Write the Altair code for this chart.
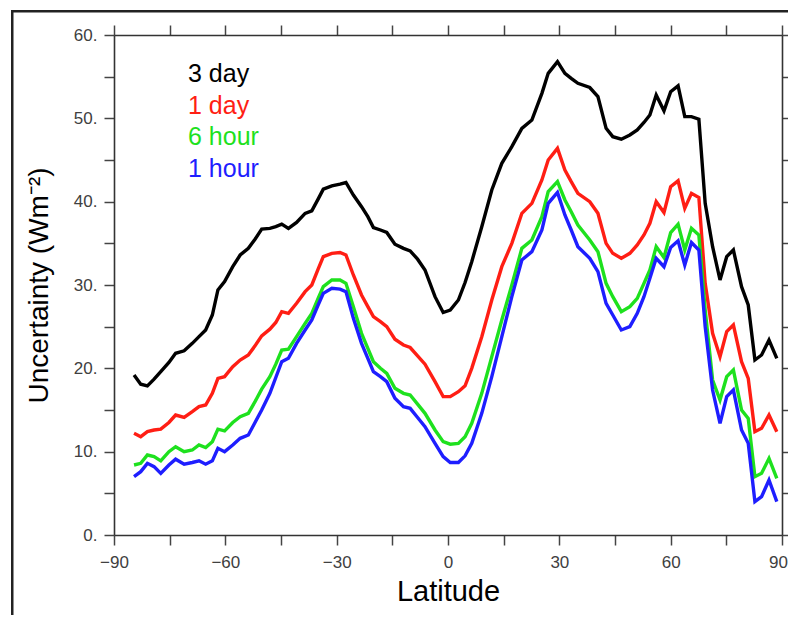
import altair as alt
import pandas as pd

# ---- data ----
lats = [-84.6, -82.8, -81.0, -79.2, -77.4, -75.2, -73.4, -71.1, -68.9, -67.1,
        -65.3, -63.5, -62.0, -60.2, -58.0, -56.0, -53.8, -52.0, -50.2, -48.0,
        -46.4, -44.8, -43.0, -40.8, -38.5, -36.7, -35.0, -33.6, -31.3, -29.1,
        -27.5, -25.5, -23.3, -21.6, -20.1, -18.2, -16.5, -14.3, -12.0, -10.2,
        -8.2, -6.2, -3.5, -1.3, 0.6, 2.8, 4.6, 6.4, 9.1, 11.8,
        14.5, 17.2, 19.9, 22.6, 25.3, 27.0, 29.5, 31.5, 33.2, 35.0,
        38.2, 40.4, 42.6, 44.4, 46.7, 49.0, 51.0, 52.8, 54.4, 56.1,
        58.2, 60.0, 62.0, 63.8, 65.6, 67.6, 69.3, 71.3, 73.3, 75.1,
        76.9, 79.1, 80.9, 82.7, 84.5, 86.5, 88.6]

three_day = [19.2, 18.1, 17.9, 18.7, 19.6, 20.7, 21.8, 22.1, 23.0, 23.8,
             24.6, 26.4, 29.4, 30.4, 32.2, 33.6, 34.4, 35.5, 36.7, 36.8,
             37.0, 37.3, 36.8, 37.5, 38.6, 38.9, 40.3, 41.5, 41.9, 42.1,
             42.3, 40.8, 39.4, 38.2, 36.9, 36.6, 36.3, 34.9, 34.4, 34.1,
             33.1, 31.8, 28.6, 26.7, 27.0, 28.2, 30.3, 32.8, 37.0, 41.4,
             44.6, 46.6, 48.8, 49.8, 53.0, 55.4, 56.8, 55.4, 54.8, 54.2,
             53.7, 52.6, 48.8, 47.8, 47.5, 48.0, 48.6, 49.5, 50.4, 52.8,
             50.9, 53.2, 53.9, 50.2, 50.2, 49.9, 39.8, 34.6, 30.6, 33.4,
             34.2, 29.8, 27.6, 21.0, 21.6, 23.4, 21.2]

one_day = [12.2, 11.8, 12.4, 12.6, 12.7, 13.5, 14.4, 14.1, 14.8, 15.4,
           15.6, 17.0, 18.8, 19.0, 20.2, 21.0, 21.6, 22.7, 23.9, 24.7,
           25.5, 26.8, 26.6, 27.8, 29.2, 30.0, 31.9, 33.4, 33.8, 33.9,
           33.6, 31.2, 28.8, 27.4, 26.2, 25.6, 25.0, 23.5, 22.8, 22.5,
           21.5, 20.5, 18.4, 16.6, 16.6, 17.2, 17.9, 20.0, 23.8, 28.2,
           32.2, 35.0, 38.6, 39.8, 42.6, 45.0, 46.4, 43.8, 42.4, 41.0,
           40.0, 38.6, 35.0, 33.8, 33.2, 33.8, 34.8, 36.0, 37.4, 40.0,
           38.7, 41.8, 42.5, 39.2, 41.0, 40.5, 30.2, 24.2, 21.4, 24.4,
           25.2, 20.8, 18.8, 12.4, 12.8, 14.4, 12.4]

six_hour = [8.4, 8.6, 9.6, 9.4, 8.9, 10.0, 10.6, 10.0, 10.2, 10.8,
            10.5, 11.2, 12.7, 12.5, 13.5, 14.2, 14.6, 16.0, 17.5, 19.0,
            20.5, 22.2, 22.3, 23.8, 25.4, 26.6, 28.4, 29.8, 30.6, 30.6,
            30.2, 27.4, 24.2, 22.4, 20.8, 20.0, 19.4, 17.6, 17.0, 16.8,
            15.7, 14.6, 12.6, 11.2, 10.9, 11.0, 11.8, 13.4, 17.0, 21.4,
            25.8, 30.0, 34.4, 35.4, 38.2, 41.2, 42.4, 40.2, 38.8, 37.2,
            35.4, 34.0, 30.2, 28.6, 26.8, 27.4, 28.4, 30.2, 31.8, 34.6,
            33.3, 36.3, 37.3, 34.2, 36.8, 36.0, 27.0, 18.6, 16.2, 19.0,
            19.8, 15.0, 14.0, 7.0, 7.4, 9.2, 6.8]

one_hour = [7.0, 7.6, 8.6, 8.2, 7.4, 8.4, 9.1, 8.5, 8.7, 8.9,
            8.5, 8.9, 10.4, 10.0, 10.8, 11.6, 12.0, 13.5, 15.0, 17.0,
            18.9, 20.8, 21.2, 23.0, 24.6, 25.8, 27.6, 29.0, 29.6, 29.5,
            29.2, 26.0, 23.0, 21.2, 19.6, 19.0, 18.4, 16.4, 15.4, 15.2,
            14.1, 13.0, 11.0, 9.4, 8.7, 8.7, 9.5, 11.0, 14.6, 19.0,
            23.8, 28.6, 33.0, 34.0, 36.6, 39.8, 41.1, 38.4, 36.6, 34.6,
            33.2, 31.6, 27.8, 26.4, 24.6, 25.0, 26.6, 28.6, 30.8, 33.2,
            32.2, 34.5, 35.3, 32.4, 35.1, 34.2, 25.0, 17.4, 13.4, 16.6,
            17.4, 12.6, 11.0, 4.0, 4.6, 6.6, 4.0]

series_names = ["3 day", "1 day", "6 hour", "1 hour"]
series_values = [three_day, one_day, six_hour, one_hour]
colors = ["#000000", "#ff1e14", "#1ee11e", "#1e1eff"]

x_ticks = [-90, -75, -60, -45, -30, -15, 0, 15, 30, 45, 60, 75, 90]
y_ticks = [0, 5, 10, 15, 20, 25, 30, 35, 40, 45, 50, 55, 60]

rows = []
for name, vals in zip(series_names, series_values):
    for la, v in zip(lats, vals):
        rows.append({"lat": la, "value": v, "series": name})
df = pd.DataFrame(rows)

FONT = "Liberation Sans"
tick_style = dict(tickSize=10, tickWidth=1.5, tickColor="#444444",
                  domainColor="#333333", domainWidth=1.6, grid=False)

x_scale = alt.Scale(domain=[-90, 90], nice=False, zero=False)
y_scale = alt.Scale(domain=[0, 60], nice=False)

lines = alt.Chart(df).mark_line(strokeWidth=3.4, clip=True).encode(
    x=alt.X("lat:Q", scale=x_scale, axis=alt.Axis(
        orient="bottom", values=x_ticks, title="Latitude",
        labelExpr="datum.value % 30 == 0 ? replace(format(datum.value, 'd'), '-', '\u2212') : ''",
        labelFontSize=17, labelColor="#404040", labelPadding=9, labelFont=FONT,
        labelOffset={"condition": {"test": "datum.value == 90", "value": -4}, "value": 0},
        titleFontSize=29, titleFont=FONT, titleColor="#000000", titleFontWeight="normal",
        titleX=334, titleY=65, titleBaseline="alphabetic", titleAlign="center",
        labelFlush=False, labelOverlap=False, **tick_style)),
    y=alt.Y("value:Q", scale=y_scale, axis=alt.Axis(
        orient="left", values=y_ticks, title="Uncertainty (Wm\u207b\u00b2)",
        labelExpr="datum.value % 10 == 0 ? format(datum.value, 'd') + '.' : ''",
        labelFontSize=17, labelColor="#404040", labelPadding=7, labelFont=FONT,
        titleFontSize=28, titleFont=FONT, titleColor="#000000", titleFontWeight="normal",
        titleX=-67, titleY=250, titleBaseline="alphabetic", titleAlign="center", titleAngle=270,
        labelFlush=False, labelOverlap=False, **tick_style)),
    color=alt.Color("series:N", scale=alt.Scale(domain=series_names, range=colors), legend=None),
)

mirror = alt.Chart(df).mark_point(opacity=0).encode(
    x=alt.X("lat:Q", axis=alt.Axis(orient="top", values=x_ticks, labels=False, title=None, **tick_style)),
    y=alt.Y("value:Q", axis=alt.Axis(orient="right", values=y_ticks, labels=False, title=None, **tick_style)),
)

legend_layers = []
for i, (name, col) in enumerate(zip(series_names, colors)):
    legend_layers.append(
        alt.Chart(pd.DataFrame({"t": [name]})).mark_text(
            align="left", baseline="alphabetic", fontSize=25, font=FONT, color=col
        ).encode(x=alt.value(74), y=alt.value(47 + 31.7 * i), text="t:N")
    )

frame_left = alt.Chart(pd.DataFrame({"k": [0]})).mark_rect(color="#222222").encode(
    x=alt.value(-103), x2=alt.value(-100.5), y=alt.value(-25), y2=alt.value(590))
frame_top = alt.Chart(pd.DataFrame({"k": [0]})).mark_rect(color="#222222").encode(
    x=alt.value(-103), x2=alt.value(690), y=alt.value(-25), y2=alt.value(-22.5))

chart = alt.layer(lines, mirror, *legend_layers, frame_left, frame_top).resolve_axis(
    x="independent", y="independent"
).properties(
    width=668, height=500,
    autosize=alt.AutoSizeParams(type="none"),
    padding={"left": 106, "top": 27, "right": 6, "bottom": 80},
    background="white",
).configure_view(stroke=None)

chart.save("out.html", embed_options={"renderer": "svg", "actions": False})
